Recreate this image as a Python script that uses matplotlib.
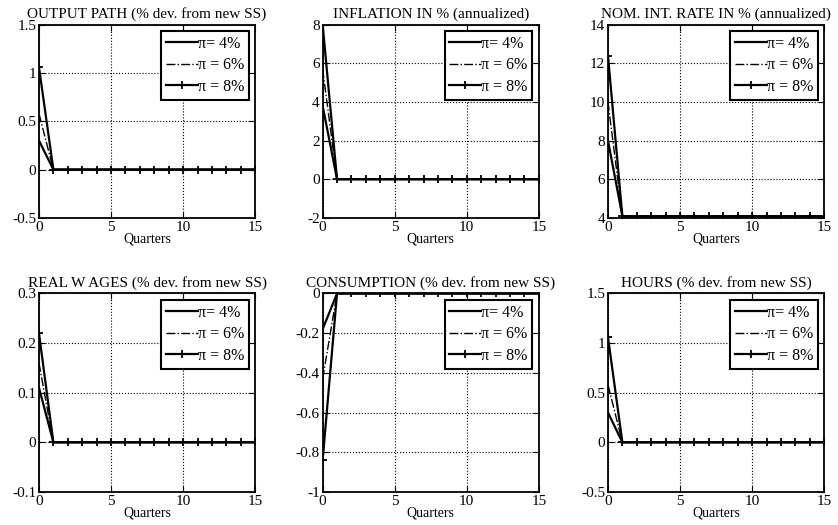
import numpy as np
import matplotlib.pyplot as plt

plt.rcParams['font.family'] = ['Liberation Serif', 'DejaVu Serif']

quarters = np.arange(16)
labels = ['\u03c0= 4%', '\u03c0 = 6%', '\u03c0 = 8%']

titles = ['OUTPUT PATH (% dev. from new SS)',
          'INFLATION IN % (annualized)',
          'NOM. INT. RATE IN % (annualized)',
          'REAL W AGES (% dev. from new SS)',
          'CONSUMPTION (% dev. from new SS)',
          'HOURS (% dev. from new SS)']

# impact value at quarter 0 for pi = 4%, 6%, 8%, and value afterwards
impact = [
    [0.30, 0.58, 1.06],
    [3.8, 5.7, 8.0],
    [8.0, 10.0, 12.4],
    [0.11, 0.16, 0.22],
    [-0.18, -0.43, -0.84],
    [0.30, 0.58, 1.06],
]
after = [0.0, 0.0, 4.08, 0.0, 0.0, 0.0]

ylims = [(-0.5, 1.5), (-2, 8), (4, 14), (-0.1, 0.3), (-1, 0), (-0.5, 1.5)]
yticks = [
    [-0.5, 0, 0.5, 1, 1.5],
    [-2, 0, 2, 4, 6, 8],
    [4, 6, 8, 10, 12, 14],
    [-0.1, 0, 0.1, 0.2, 0.3],
    [-1, -0.8, -0.6, -0.4, -0.2, 0],
    [-0.5, 0, 0.5, 1, 1.5],
]
yticklabels = [
    ['-0.5', '0', '0.5', '1', '1.5'],
    ['-2', '0', '2', '4', '6', '8'],
    ['4', '6', '8', '10', '12', '14'],
    ['-0.1', '0', '0.1', '0.2', '0.3'],
    ['-1', '-0.8', '-0.6', '-0.4', '-0.2', '0'],
    ['-0.5', '0', '0.5', '1', '1.5'],
]

fig = plt.figure(figsize=(8.38, 5.25), dpi=100)
lefts = [0.0465, 0.385, 0.7255]
bottoms = [0.585, 0.063]
heights = [0.368, 0.378]
w = 0.258

for i in range(6):
    r, c = divmod(i, 3)
    ax = fig.add_axes([lefts[c], bottoms[r], w, heights[r]])
    styles = [dict(color='k', lw=1.6, ls='-'),
              dict(color='k', lw=1.0, ls='-.'),
              dict(color='k', lw=1.6, ls='-', marker='+', ms=6, mew=1.3)]
    for j in range(3):
        y = np.full(16, after[i])
        y[0] = impact[i][j]
        ax.plot(quarters, y, label=labels[j], **styles[j])
    ax.set_xlim(0, 15)
    ax.set_ylim(*ylims[i])
    ax.set_xticks([0, 5, 10, 15])
    ax.set_yticks(yticks[i])
    ax.set_yticklabels(yticklabels[i])
    ax.grid(True, color='k', ls=':', lw=0.8)
    ax.tick_params(direction='in', top=True, right=True, labelsize=11, pad=2, length=4)
    for s in ax.spines.values():
        s.set_linewidth(1.3)
    ax.set_title(titles[i], fontsize=11, pad=5)
    ax.set_xlabel('Quarters', fontsize=10, labelpad=-1)
    leg = ax.legend(loc='upper right', fontsize=11.5, fancybox=False, edgecolor='k',
                    framealpha=1, handlelength=2.0, handletextpad=0.0,
                    borderpad=0.3, labelspacing=0.35, borderaxespad=0.4)
    leg.get_frame().set_linewidth(1.5)

fig.savefig('out.png', dpi=100)
